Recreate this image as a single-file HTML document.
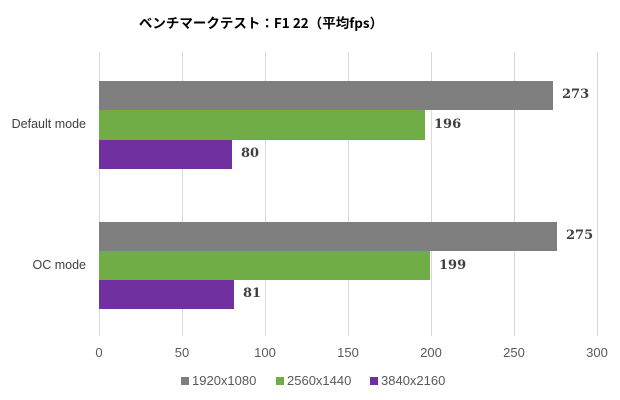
<!DOCTYPE html>
<html><head><meta charset="utf-8"><style>
body{margin:0;width:620px;height:400px;background:#fff;position:relative;overflow:hidden;font-family:"Liberation Sans","Noto Sans CJK JP",sans-serif;}
.a{position:absolute}
.g{position:absolute;top:52px;height:284px;width:1px;background:#d9d9d9}
.b{position:absolute;left:99px}
.v{position:absolute;font-size:13px;font-weight:bold;color:#404040;font-family:"DejaVu Serif",serif;}
.t{position:absolute;top:345px;font-size:13px;color:#595959;width:40px;text-align:center;font-family:"Liberation Sans",sans-serif;}
.c{position:absolute;font-size:12.5px;color:#404040;text-align:right;width:90px;left:0}
.l{position:absolute;top:373px;font-size:13px;color:#595959;font-family:"Liberation Sans",sans-serif;}
.s{display:inline-block;width:8px;height:8px;margin-right:3px}
</style></head><body>
<div class="a" style="left:0;width:522px;top:12px;text-align:center;font-size:13.5px;font-weight:bold;color:#000;font-family:'Noto Sans CJK JP',sans-serif">ベンチマークテスト：F1 22（平均fps）</div>
<div class="g" style="left:99px"></div><div class="g" style="left:182px"></div><div class="g" style="left:265px"></div><div class="g" style="left:348px"></div><div class="g" style="left:431px"></div><div class="g" style="left:514px"></div><div class="g" style="left:597px"></div>
<div class="b" style="top:81px;height:29px;width:454px;background:#7f7f7f"></div>
<div class="b" style="top:110px;height:30px;width:326px;background:#70ad47"></div>
<div class="b" style="top:140px;height:29px;width:133px;background:#7030a0"></div>
<div class="b" style="top:222px;height:29px;width:458px;background:#7f7f7f"></div>
<div class="b" style="top:251px;height:29px;width:331px;background:#70ad47"></div>
<div class="b" style="top:280px;height:29px;width:135px;background:#7030a0"></div>
<div class="v" style="left:562px;top:87px">273</div>
<div class="v" style="left:434px;top:117px">196</div>
<div class="v" style="left:241px;top:146px">80</div>
<div class="v" style="left:566px;top:228px">275</div>
<div class="v" style="left:439px;top:258px">199</div>
<div class="v" style="left:243px;top:286px">81</div>
<div class="c" style="top:117px;left:-4px">Default mode</div>
<div class="c" style="top:258px;left:-4px">OC mode</div>
<div class="t" style="left:79px">0</div><div class="t" style="left:162px">50</div><div class="t" style="left:245px">100</div><div class="t" style="left:328px">150</div><div class="t" style="left:411px">200</div><div class="t" style="left:494px">250</div><div class="t" style="left:577px">300</div>
<div class="l" style="left:181px"><span class="s" style="background:#7f7f7f"></span>1920x1080</div>
<div class="l" style="left:276px"><span class="s" style="background:#70ad47"></span>2560x1440</div>
<div class="l" style="left:370px"><span class="s" style="background:#7030a0"></span>3840x2160</div>
</body></html>
